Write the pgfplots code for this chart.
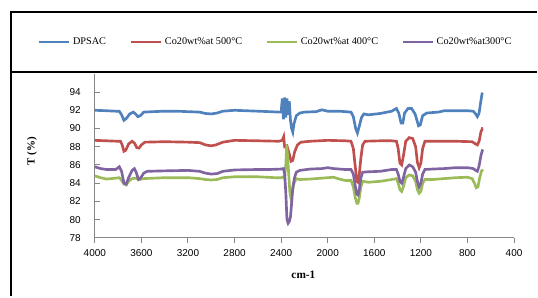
\documentclass[border=0pt]{standalone}
\usepackage{fontspec}
\setmainfont{Liberation Serif}
\newfontfamily\ticksans{Liberation Sans}
\usepackage{pgfplots}
\pgfplotsset{compat=1.18}
\definecolor{sBlue}{HTML}{4F81BD}
\definecolor{sRed}{HTML}{C0504D}
\definecolor{sGreen}{HTML}{9BBB59}
\definecolor{sPurple}{HTML}{8064A2}
\definecolor{axgray}{HTML}{868686}
\begin{document}
\begin{tikzpicture}
\begin{axis}[
  scale only axis, width=315pt, height=123.2pt,
  xmin=400, xmax=4000, ymin=78, ymax=96,
  x dir=reverse,
  enlargelimits=false, clip=false,
  axis x line=bottom, axis y line=left,
  axis line style={axgray, line width=0.75pt, -},
  every tick/.style={axgray, line width=0.75pt},
  major tick length=3.75pt,
  xtick align=outside, ytick align=inside,
  xtick={400,800,1200,1600,2000,2400,2800,3200,3600,4000},
  ytick={78,80,82,84,86,88,90,92,94},
  /pgf/number format/assume math mode=true,
  /pgf/number format/set thousands separator={},
  xticklabel style={font=\ticksans\fontsize{7.5}{9}\selectfont, yshift=-1.6pt},
  yticklabel style={font=\ticksans\fontsize{7.5}{9}\selectfont, xshift=-7pt},
  xlabel={cm-1},
  ylabel={T (\%)},
  xlabel style={at={(axis description cs:0.4976,-0.2276)}, anchor=center, font=\bfseries\fontsize{8.5}{10}\selectfont},
  ylabel style={at={(axis description cs:-0.15,0.527)}, anchor=center, font=\bfseries\fontsize{8.2}{10}\selectfont},
  legend columns=4,
  legend cell align=left,
  legend image code/.code={\draw[#1,line width=1.6pt] (0pt,0pt) -- (22.5pt,0pt);},
  legend style={at={(axis description cs:-0.1357,1.1948)}, anchor=west,
    draw=none, fill=none, inner sep=0pt, outer sep=0pt,
    font=\fontsize{7.7}{9}\selectfont,
    nodes={inner sep=0pt},
    /tikz/every odd column/.style={column sep=2.25pt},
    /tikz/every even column/.style={column sep=0pt}},
]
\addplot[sBlue, line width=2pt] coordinates {
(4000,92.0) (3900,91.95) (3820,91.9) (3790,91.9) (3770,91.5) (3750,90.9) (3730,91.1) (3700,91.6) (3670,91.8) (3650,91.6) (3630,91.3) (3610,91.4) (3580,91.8) (3500,91.85) (3400,91.9) (3300,91.9) (3200,91.85) (3100,91.8) (3050,91.65) (3000,91.6) (2950,91.7) (2900,91.9) (2800,92.0) (2700,91.95) (2600,91.9) (2500,91.85) (2420,91.8) (2400,91.8) (2390,93.3) (2380,91.0) (2370,93.4) (2360,91.2) (2350,93.3) (2340,91.5) (2330,93.0) (2320,90.9) (2310,90.0) (2300,89.6) (2290,90.5) (2270,91.4) (2240,91.7) (2200,91.8) (2100,91.85) (2050,92.05) (2000,91.9) (1900,91.9) (1850,91.85) (1800,91.8) (1780,91.3) (1760,90.0) (1745,89.5) (1730,90.2) (1710,91.2) (1690,91.6) (1650,91.5) (1550,91.65) (1450,91.9) (1410,92.2) (1390,91.7) (1370,90.6) (1355,90.6) (1340,91.7) (1310,92.2) (1280,92.2) (1250,91.6) (1220,90.3) (1205,90.4) (1185,91.4) (1150,91.7) (1050,91.8) (1000,91.95) (900,91.95) (800,91.95) (750,91.9) (730,91.6) (715,91.3) (700,91.7) (685,93.0) (675,93.8) (668,93.9)
};
\addlegendentry{\makebox[42.75pt][l]{DPSAC}}
\addplot[sRed, line width=2pt] coordinates {
(4000,88.7) (3800,88.6) (3780,88.6) (3765,88.2) (3750,87.5) (3735,87.6) (3710,88.3) (3680,88.6) (3660,88.4) (3640,87.9) (3620,87.85) (3600,88.2) (3570,88.5) (3400,88.55) (3200,88.5) (3100,88.45) (3050,88.2) (3000,88.1) (2960,88.2) (2900,88.5) (2800,88.7) (2600,88.65) (2420,88.6) (2390,88.7) (2378,89.1) (2370,88.0) (2350,88.1) (2330,87.2) (2315,86.4) (2300,86.5) (2285,87.4) (2260,88.2) (2230,88.5) (2150,88.6) (2000,88.7) (1850,88.65) (1800,88.6) (1780,87.8) (1765,86.0) (1750,84.2) (1740,84.1) (1730,84.8) (1715,86.8) (1700,88.2) (1680,88.6) (1550,88.65) (1450,88.65) (1410,88.6) (1395,87.8) (1380,86.2) (1365,86.0) (1350,87.0) (1330,88.6) (1300,89.0) (1270,88.9) (1245,88.0) (1230,86.3) (1215,85.7) (1200,86.2) (1185,87.8) (1165,88.6) (1100,88.6) (900,88.6) (760,88.55) (730,88.3) (715,88.2) (700,88.6) (685,89.6) (672,90.0) (668,90.0)
};
\addlegendentry{\makebox[75.75pt][l]{Co20wt\%at 500°C}}
\addplot[sGreen, line width=2pt] coordinates {
(4000,84.8) (3950,84.6) (3900,84.45) (3820,84.55) (3790,84.6) (3770,84.3) (3750,83.9) (3730,83.8) (3710,84.2) (3680,84.5) (3650,84.55) (3620,84.4) (3580,84.5) (3400,84.6) (3200,84.6) (3100,84.5) (3050,84.4) (3000,84.35) (2950,84.4) (2900,84.6) (2800,84.7) (2600,84.7) (2450,84.6) (2400,84.6) (2380,84.7) (2370,84.5) (2360,86.0) (2352,88.2) (2345,87.0) (2335,85.0) (2325,83.0) (2315,82.3) (2305,82.9) (2290,84.0) (2270,84.5) (2240,84.4) (2150,84.45) (2100,84.5) (2000,84.6) (1950,84.65) (1900,84.45) (1850,84.3) (1800,84.3) (1780,83.6) (1765,82.5) (1750,81.8) (1740,81.8) (1730,82.3) (1715,83.6) (1700,84.2) (1650,84.1) (1550,84.2) (1450,84.4) (1410,84.5) (1395,84.0) (1380,83.3) (1365,83.1) (1350,83.6) (1330,84.6) (1300,84.9) (1270,84.8) (1245,84.2) (1230,83.3) (1215,82.9) (1200,83.1) (1185,84.0) (1165,84.4) (1100,84.4) (1000,84.5) (900,84.6) (800,84.65) (760,84.5) (740,84.0) (725,83.5) (710,83.6) (695,84.6) (680,85.3) (668,85.5)
};
\addlegendentry{\makebox[75.75pt][l]{Co20wt\%at 400°C}}
\addplot[sPurple, line width=2pt] coordinates {
(4000,85.8) (3950,85.6) (3900,85.5) (3820,85.5) (3790,85.8) (3770,85.3) (3750,84.0) (3730,83.9) (3710,84.6) (3680,85.4) (3660,85.6) (3645,85.2) (3625,84.4) (3610,84.5) (3580,85.1) (3550,85.3) (3400,85.35) (3200,85.4) (3100,85.3) (3050,85.1) (3000,85.0) (2950,85.05) (2900,85.3) (2800,85.45) (2600,85.5) (2500,85.5) (2400,85.55) (2380,85.6) (2370,85.0) (2360,83.0) (2350,80.0) (2340,79.6) (2330,79.8) (2320,80.3) (2310,81.8) (2300,83.5) (2285,84.6) (2270,85.2) (2240,85.4) (2150,85.55) (2050,85.6) (2000,85.7) (1950,85.6) (1850,85.5) (1800,85.5) (1780,85.0) (1765,83.8) (1750,82.8) (1740,82.7) (1730,83.2) (1715,84.6) (1700,85.2) (1650,85.25) (1550,85.3) (1450,85.5) (1410,85.5) (1395,85.0) (1380,84.2) (1365,84.0) (1350,84.6) (1330,85.6) (1300,86.0) (1270,85.8) (1245,85.2) (1230,84.2) (1215,83.6) (1200,84.0) (1185,85.0) (1165,85.5) (1100,85.55) (1000,85.6) (900,85.7) (800,85.7) (750,85.6) (730,85.4) (715,85.3) (700,85.9) (685,87.0) (672,87.6) (668,87.7)
};
\addlegendentry{Co20wt\%at300°C}
% page extent and frame
\path (axis description cs:-0.22619,-0.35727) rectangle (axis description cs:1.05476,1.45039);
\draw[black,line width=1.5pt] (axis description cs:-0.2,-0.35727) -- (axis description cs:-0.2,1.3773) -- (axis description cs:1.05476,1.3773);
\draw[black,line width=1.5pt] (axis description cs:-0.2,1.0122) -- (axis description cs:1.05476,1.0122);
\end{axis}
\end{tikzpicture}
\end{document}
